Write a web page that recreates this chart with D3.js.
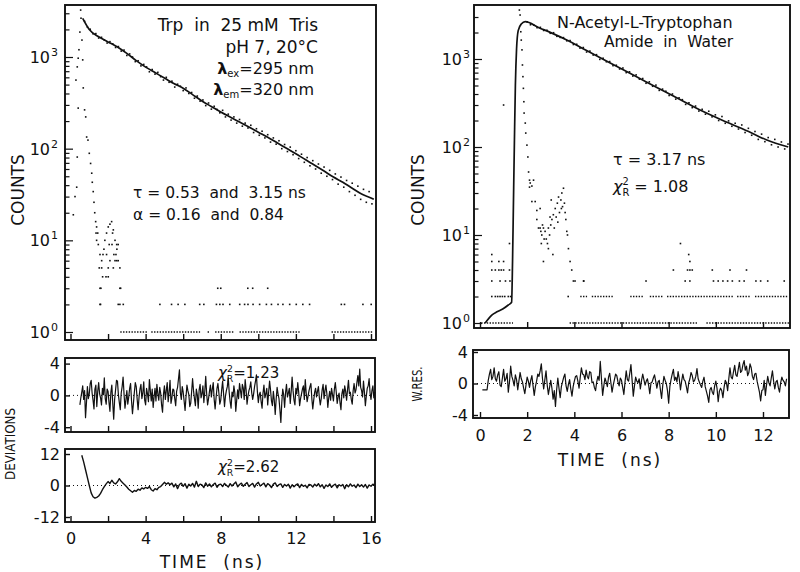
<!DOCTYPE html>
<html><head><meta charset="utf-8">
<script src="https://cdn.jsdelivr.net/npm/d3@7"></script>
<style>
body{margin:0;background:#fff;}
svg{font-family:"DejaVu Sans",sans-serif;fill:#111;}
text{white-space:pre;}
</style></head><body>
<svg id="c" width="800" height="572"></svg>
<script>
// ---------------- DATA ----------------
// Left: Trp in 25 mM Tris
const trpFitTime   = [0.65,1.0,1.5,2.0,2.5,3.0,3.5,4.0,4.5,5.0,5.5,6.0,6.5,7.0,7.5,8.0,8.5,9.0,9.5,10,10.5,11,11.5,12,12.5,13,13.5,14,14.5,15,15.5,16,16.15];
const trpFitCounts = [2640,1995,1660,1462,1288,1096,912,776,676,589,513,457,389,331,288,251,221,195,172,151,133,116,101,88,76,66,57,49,43,37,32,29,28];
const trpChannelStart = 0.75, trpChannelWidth = 0.15;
const trpDecayCounts = [2450,2120,2010,1790,1800,1610,1640,1530,1420,1470,
 1390,1270,1300,1160,1190,1040,1080,1000,890,910,
 800,830,780,690,730,650,680,610,560,600,
 530,545,470,505,480,430,460,400,410,355,
 375,330,340,295,315,270,290,268,246,262,
 222,238,205,222,190,208,176,190,168,180,
 150,165,140,155,131,142,118,131,112,122,
 100,111,93,104,86,95,78,87,71,80,
 65,74,60,68,54,63,50,58,46,53,
 41,49,38,45,34,42,31,39,28,36,
 26,34,25];
const trpLampTime   = [0.15,0.24,0.33,0.36,0.41,0.29,0.36,0.41,0.45,0.5,0.54,0.56,0.61,0.65,0.68,0.75,0.81,0.86,0.93,1.0,1.07,1.13,1.16,1.21,1.25,1.29,1.34,1.39,1.45,1.36,1.39,1.48,1.57,1.66,1.53,1.66,1.71,1.62,1.6,1.83,1.92,2.01,2.1,2.19,2.28,2.06,1.92,2.1,2.01,2.21,2.31,2.37,1.89,2.01,2.28,2.46,2.42,2.54,2.63,2.67,2.46,2.24,2.37,2.54,2.47,1.78,1.73,2.63];
const trpLampCounts = [19,30,38,81,277,560,780,970,1200,1870,3250,2650,1530,930,460,265,222,134,124,89,69,54,43,34,26,20,16,14,12,12,10,9,7,6,5,5,4,3,2,10,12,14,15,16,13,9,7,6,5,9,7,6,4,4,5,6,7,6,5,3,9,12,10,9,8,8,7,2];
const trpLevel1Runs = [[2.65,4.1],[4.3,6.9],[7.3,7.45],[7.7,8.7],[9.0,12.2],[13.9,16.1]];
const trpLevel2Time = [1.57,2.54,2.81,4.76,5.38,5.73,6.09,6.88,7.1,7.77,7.95,8.12,8.48,9.01,9.27,9.45,9.72,10.07,10.43,10.7,11.05,11.31,11.67,12.02,12.37,12.73,14.42,14.59,15.57,16.01];
const trpLevel3Time = [1.57,2.63,7.84,8.0,9.44,9.7,10.5];

const res1Start = 0.5, res1Step = 0.05;
const res1Values = [-1.2,-0.3,0.4,1.2,-0.5,0.6,-2.8,-0.9,1.1,-0.4,0.2,1.5,1.9,0.3,-0.6,-1.7,0.8,1.3,-1.4,0.5,
 1.6,0.2,-0.3,-1.2,0.9,0.1,2.2,-0.4,-1.1,0.8,0.5,-0.9,-2.0,0.4,1.3,-1.0,-3.0,-0.5,0.7,1.9,
 1.8,0.1,-0.9,-1.8,0.3,1.1,2.3,0.2,-1.6,-0.6,0.6,-1.1,-0.2,0.9,1.5,-0.7,-2.3,-1.0,0.4,1.6,
 1.1,-0.5,-1.8,-0.2,0.8,1.4,-0.4,0.3,1.7,-0.6,-1.2,0.9,0.2,-0.8,2.0,0.6,-0.7,0.8,-1.5,-0.2,
 0.9,-0.7,1.4,0.2,-0.6,1.0,0.3,-1.2,-2.1,0.1,1.2,-0.5,0.6,1.6,-0.8,0.4,1.9,-1.0,-0.3,0.8,
 0.7,-0.4,-1.3,0.5,1.0,2.1,3.2,0.3,-0.5,1.1,0.4,-0.7,-1.9,-0.2,1.3,0.6,0.1,-1.4,-1.0,0.5,
 2.1,0.6,-0.4,-1.3,0.8,0.1,-1.6,0.7,1.4,-0.3,0.2,1.2,-0.9,0.5,2.4,0.2,-1.2,-0.4,0.5,1.3,
 -0.2,0.8,1.6,-0.5,-1.7,-0.3,0.9,1.5,0.3,-1.1,-0.6,0.7,1.8,0.2,-1.4,-0.1,0.6,1.1,2.2,0.4,
 -0.8,-1.6,0.4,-0.2,1.2,0.3,-2.0,-0.6,0.7,-0.4,1.5,0.6,-0.3,1.4,0.9,-0.5,2.0,0.7,-1.1,-0.1,
 0.6,1.0,1.7,0.3,-0.5,0.2,1.1,1.8,2.6,0.5,-0.9,0.1,0.4,-0.8,-1.6,0.3,1.3,-0.3,0.2,0.9,
 -1.2,0.4,1.8,0.7,-0.7,-1.3,0.5,-0.6,-2.4,-0.5,1.0,0.2,-0.4,-1.8,-3.4,-0.9,0.8,0.1,-1.5,0.3,
 1.4,-0.2,0.3,0.9,-1.0,0.5,2.3,0.6,-0.6,-1.2,0.9,0.2,1.6,0.4,-1.3,-0.4,0.2,0.8,1.2,-0.5,
 2.0,0.3,-0.8,-0.1,0.6,1.1,1.5,-0.4,-1.7,-0.6,0.4,0.9,-0.2,0.5,1.1,-0.3,-1.2,-0.4,0.7,1.4,
 -0.4,0.6,1.3,0.2,-1.5,-0.3,0.5,-0.6,0.9,0.1,-0.7,0.8,1.6,0.4,-1.0,-0.2,0.3,-0.9,-1.8,0.2,
 0.8,-0.3,1.2,0.5,-0.6,0.7,1.9,0.2,0.4,-0.5,-1.1,0.6,1.5,0.3,0.7,1.6,2.5,1.2,3.3,1.0,
 0.6,-0.2,1.8,0.4,-1.3,-0.1,0.9,1.2,2.1,0.3,-0.5,0.6,1.2,-0.3,0.4];
const res2Start = 0.6, res2Step = 0.1;
const res2Values = [11.5,9.0,6.0,3.0,0.0,-2.8,-4.3,-4.8,-4.5,-4.0,
 -3.0,-1.6,-0.4,0.6,1.5,0.8,2.0,1.0,0.6,1.4,
 2.6,1.6,0.9,0.2,-0.6,-1.4,-2.0,-2.6,-1.9,-2.2,
 -1.4,-1.8,-0.9,-1.3,-0.7,-1.1,-0.4,-1.6,-2.1,-1.2,
 -1.6,-0.7,-0.4,0.4,1.2,0.5,1.0,0.3,0.9,-0.5,
 0.6,-1.2,0.4,0.9,-0.3,0.7,-1.0,0.5,-0.2,0.8,
 -0.6,1.6,-0.4,0.5,0.2,-0.8,1.0,-0.3,0.6,-0.5,
 0.4,0.9,-0.7,0.3,0.5,-0.4,0.8,0.1,-0.6,0.7,
 -0.2,0.6,1.3,-0.5,0.4,0.9,-0.3,0.5,1.1,-0.4,
 0.3,0.8,-0.6,0.6,1.2,-0.2,0.4,0.9,-0.5,0.7,
 0.2,-0.8,0.5,1.0,-0.4,0.3,0.6,-0.7,0.4,-0.2,
 0.5,-1.0,0.3,-0.5,0.2,0.6,-0.8,0.4,-0.3,0.1,
 -0.9,0.4,0.2,-0.6,0.5,-0.2,0.7,-0.5,0.3,-1.1,
 0.2,-0.4,0.6,-0.7,0.1,0.5,-0.9,0.3,-0.2,0.4,
 -1.2,0.3,-0.5,0.6,-0.3,0.2,-0.8,0.5,-0.4,0.3,
 -0.6,0.4,-1.0,0.2,-0.3,0.5,0.1];

// Right: N-Acetyl-L-Tryptophan Amide in Water
const natFitTime   = [0.22,0.5,0.72,0.98,1.2,1.34,1.38,1.42,1.46,1.5,1.55,1.62,1.75,1.92,2.5,3.0,3.68,4.5,5.5,6.5,7.5,8.5,9.33,10.5,11.5,12.16,13.07];
const natFitCounts = [1.0,1.23,1.34,1.45,1.6,1.72,5,25,120,500,1300,2100,2500,2655,2270,1995,1645,1260,908,658,475,344,263,190,145,120,100];
const natChannelStart = 2.0, natChannelWidth = 0.14;
const natDecayCounts = [2640,2450,2430,2270,2290,2110,2120,1960,1990,1810,
 1760,1750,1610,1620,1460,1470,1330,1350,1200,1230,
 1110,1120,990,1020,930,935,840,850,770,790,
 700,715,640,660,590,600,530,550,490,505,
 440,455,430,385,400,350,362,345,305,318,
 280,292,256,268,236,255,220,232,200,222,
 186,198,172,186,160,178,146,163,136,150,
 122,140,115,128,106,122,100,114,95,108];
const natLampTime   = [1.67,1.70,1.73,1.75,1.78,1.80,1.82,1.84,1.86,1.87,1.92,1.94,1.99,2.03,2.06,2.10,2.13,2.20,2.10,2.27,2.20,2.34,2.41,2.55,2.41,2.48,2.55,2.58,2.62,2.69,2.76,2.81,2.86,2.69,2.90,2.97,3.02,3.05,3.09,3.11,3.19,3.23,3.28,3.33,3.37,3.43,3.47,3.54,3.58,3.61,3.64,3.68,3.71,3.75,3.82,3.89,4.03,4.39,2.65,2.72,2.95,3.0,3.15,3.3,3.45,3.5,2.6,2.9,1.0,1.25];
const natLampCounts = [3600,3160,2040,1640,1270,855,630,464,327,243,187,144,105,77,52,42,39,36,35,42,24,24,19,20,15,12,12,11,10,12,11,9,8,5,12,16,25,15,6,17,20,16,23,27,18,25,30,34,23,18,15,11,10,7,5,4,3,3,13,9,10,13,12,14,20,21,8,7,300,8];
const natLevel1Runs = [[0.05,1.4],[3.8,9.2],[9.6,13.1]];
const natLevel2Runs = [[4.25,4.54],[4.74,5.63],[6.37,6.92],[7.2,7.76],[7.93,10.73],[10.9,11.45],[11.66,13.06]];
const natLevel2Time = [0.5,0.65,0.75,0.85,0.95,1.05,1.2,1.3,3.74];
const natLevel3Time = [0.5,0.85,1.08,1.27,3.96,4.4,7.04,8.7,8.9,9.9,10.1,10.3,10.5,10.7,11.0,11.2,11.7,11.9,12.2,12.9];
const natLevel4Time = [0.5,0.65,0.8,0.9,1.0,1.25,8.2,8.8,8.9,9.0,9.85,10.6,11.3];
const natLevel5Time = [0.5,0.8,1.0,8.9];
const natLevel6Time = [0.5,8.85];
const natLevel8Time = [8.5];
const res3Start = 0.1, res3Step = 0.05;
const res3Values = [-0.8,-0.8,-0.8,-0.8,-0.8,0.4,1.2,1.8,0.5,0.9,2.0,0.6,0.3,1.1,1.5,-0.2,-0.4,0.7,1.8,0.3,
 0.6,1.3,-1.1,0.2,2.2,0.9,0.4,-0.3,1.1,0.5,-0.8,0.3,1.4,0.6,0.2,-0.6,-1.3,-0.2,0.8,0.3,
 -0.5,0.4,1.0,-0.3,-1.5,-0.4,0.3,1.2,0.9,1.6,2.5,0.6,-0.7,0.5,1.6,-0.2,-1.4,-0.5,0.4,-0.6,
 -2.0,-0.9,-2.9,-0.8,0.7,-0.6,-1.8,-0.4,0.2,0.8,1.2,-0.3,-1.0,-0.1,0.5,-0.7,-1.6,-0.4,0.3,0.9,
 1.0,0.3,-0.6,0.8,2.0,1.2,1.1,0.5,1.7,0.9,0.6,1.5,1.4,0.1,0.2,-0.5,-0.9,0.2,0.9,0.4,
 2.8,0.6,-1.5,-0.3,0.7,0.2,-0.4,0.8,1.3,0.1,-1.1,-0.2,0.5,1.2,1.0,0.2,-0.3,0.7,0.4,-0.5,
 -1.4,0.2,1.6,0.5,0.3,1.3,2.4,0.4,-1.6,-0.3,0.8,0.3,0.1,0.6,-0.7,0.4,1.2,0.5,-0.2,0.3,
 0.6,-0.2,-1.3,0.1,0.2,0.7,1.1,0.3,-0.6,0.2,0.4,-0.8,-1.9,-0.2,0.9,0.4,0.0,-0.9,-2.5,-0.4,
 0.5,1.2,1.8,0.4,0.8,0.2,1.5,0.6,-0.8,0.3,1.2,0.5,0.3,-0.4,-1.2,0.1,0.6,1.4,1.0,0.2,
 0.4,0.9,1.9,0.6,0.2,-0.2,-0.5,0.3,0.8,-0.4,-1.0,-1.6,-2.4,-0.8,-0.5,-1.1,-1.4,-0.3,0.3,-0.6,
 -2.3,-1.0,-0.6,-0.9,-1.8,-0.5,0.4,0.1,-0.9,0.6,2.0,0.8,0.6,1.5,2.3,1.1,0.9,1.8,2.7,1.4,
 1.6,2.4,2.9,1.7,2.2,1.0,1.4,2.5,2.0,0.9,0.5,1.2,1.3,0.3,-0.4,-1.1,-2.2,-0.9,-0.8,0.4,
 -1.5,-0.2,0.9,0.1,-0.3,0.7,1.6,0.3,-0.7,0.2,0.4,-0.5,-1.1,0.1,0.8,0.4,0.2,-0.3,0.6];

// Ticks
const logMajorTicks = [1,10,100,1000];
const logMinorTicks = [2,3,4,5,6,7,8,9,20,30,40,50,60,70,80,90,200,300,400,500,600,700,800,900,2000,3000];
const leftTimeTicks = [0,2,4,6,8,10,12,14,16];
const leftTimeLabels = [0,4,8,12,16];
const rightTimeTicks = [0,2,4,6,8,10,12];
const resTicks4 = [-4,0,4];
const resTicks12 = [-12,0,12];

// ---------------- DRAW ----------------
const svg = d3.select('#c');
const ink = '#111';

const xL = d3.scaleLinear().domain([0,16]).range([70.5,371]);
const yLm = d3.scaleLog().domain([1,1000]).range([332,57]);
const yR1 = d3.scaleLinear().domain([-4,4]).range([427.2,363.6]);
const yR2 = d3.scaleLinear().domain([-12,12]).range([517,454]);
const xR = d3.scaleLinear().domain([0,12]).range([480,763]);
const yRm = d3.scaleLog().domain([1,1000]).range([323,59]);
const yRr = d3.scaleLinear().domain([-4,4]).range([415,352]);

const fmt = d => d < 0 ? '-' + Math.abs(d) : String(d);

function frame(x0,y0,x1,y1){
  svg.append('rect').attr('x',x0).attr('y',y0).attr('width',x1-x0).attr('height',y1-y0)
    .attr('fill','none').attr('stroke',ink).attr('stroke-width',1.9);
}
function bottomTicks(x, ticks, y, len, labels, pad){
  const ax = d3.axisBottom(x).tickValues(ticks).tickSizeInner(-len).tickSizeOuter(0)
     .tickPadding(pad||10).tickFormat(d => labels && labels.includes(d) ? fmt(d) : '');
  const g = svg.append('g').attr('transform',`translate(0,${y})`).call(ax);
  g.select('.domain').remove();
  g.selectAll('line').attr('stroke',ink).attr('stroke-width',1.4);
  g.selectAll('text').attr('font-size',16).attr('fill',ink).attr('font-family','"DejaVu Sans",sans-serif');
}
function logTicks(y, x0, labelX){
  const gMin = svg.append('g').attr('transform',`translate(${x0},0)`)
     .call(d3.axisRight(y).tickValues(logMinorTicks).tickSize(4.5).tickFormat(''));
  const gMaj = svg.append('g').attr('transform',`translate(${x0},0)`)
     .call(d3.axisRight(y).tickValues(logMajorTicks).tickSize(8).tickFormat(''));
  [gMin,gMaj].forEach(g=>{g.select('.domain').remove(); g.selectAll('line').attr('stroke',ink).attr('stroke-width',1.2);});
  logMajorTicks.forEach(v=>{
    const t = svg.append('text').attr('x',labelX).attr('y',y(v)+6).attr('text-anchor','end')
      .attr('font-size',16).attr('fill',ink);
    t.append('tspan').text('10');
    t.append('tspan').attr('font-size',11).attr('dy',-7).attr('dx',1).text(String(Math.round(Math.log10(v))));
  });
}
function leftValueTicks(y, x0, ticks){
  const g = svg.append('g').attr('transform',`translate(${x0},0)`)
    .call(d3.axisLeft(y).tickValues(ticks).tickSizeInner(-5).tickSizeOuter(0).tickPadding(5).tickFormat(fmt));
  g.select('.domain').remove();
  g.selectAll('line').attr('stroke',ink).attr('stroke-width',1.4);
  g.selectAll('text').attr('font-size',16).attr('fill',ink).attr('font-family','"DejaVu Sans",sans-serif');
}
function zeroLine(x0,x1,y){
  svg.append('line').attr('x1',x0).attr('x2',x1).attr('y1',y).attr('y2',y)
    .attr('stroke',ink).attr('stroke-width',1).attr('stroke-dasharray','1,3');
}
function dots(x,y,times,counts,g){
  g.selectAll(null).data(times.map((t,i)=>({t,c:counts[i]}))).enter().append('rect')
    .attr('x',d=>x(d.t)-0.8).attr('y',d=>y(d.c)-0.8).attr('width',1.6).attr('height',1.6).attr('fill',ink);
}
function levelDots(x,y,times,level,g){ dots(x,y,times,times.map(()=>level),g); }
function levelRuns(x,y,runs,level,g){
  g.selectAll(null).data(runs).enter().append('line')
    .attr('x1',d=>x(d[0])).attr('x2',d=>x(d[1])).attr('y1',y(level)).attr('y2',y(level))
    .attr('stroke',ink).attr('stroke-width',1.5).attr('stroke-dasharray','1.4,1.4');
}
function chi(x,y,val,size){
  const t = svg.append('text').attr('x',x).attr('y',y).attr('font-size',size).attr('fill',ink);
  t.append('tspan').attr('font-style','italic').text('χ');
  t.append('tspan').attr('font-size',size*0.62).attr('dy',-size*0.42).text('2');
  t.append('tspan').attr('font-size',size*0.62).attr('dx',-size*0.4).attr('dy',size*0.7).text('R');
  t.append('tspan').attr('dy',-size*0.28).text(val);
}
function txt(x,y,s,size,anchor){
  return svg.append('text').attr('x',x).attr('y',y).attr('font-size',size).attr('fill',ink)
    .attr('text-anchor',anchor||'start').text(s);
}
function resLine(x,y,start,step,vals,w){
  svg.append('path').datum(vals.map((v,i)=>[start+i*step,v]))
    .attr('d',d3.line().x(d=>x(d[0])).y(d=>y(d[1])))
    .attr('fill','none').attr('stroke',ink).attr('stroke-width',w).attr('stroke-linejoin','round');
}

// ===== Left main =====
frame(65,5,376,340);
bottomTicks(xL, leftTimeTicks, 340, 6, null);
logTicks(yLm, 65, 58);
const gL = svg.append('g');
levelRuns(xL,yLm,trpLevel1Runs,1,gL);
levelDots(xL,yLm,trpLevel2Time,2,gL);
levelDots(xL,yLm,trpLevel3Time,3,gL);
dots(xL,yLm,trpLampTime,trpLampCounts,gL);
dots(xL,yLm,trpDecayCounts.map((c,i)=>trpChannelStart+i*trpChannelWidth),trpDecayCounts,gL);
svg.append('path').datum(trpFitTime.map((t,i)=>[t,trpFitCounts[i]]))
  .attr('d',d3.line().x(d=>xL(d[0])).y(d=>yLm(d[1])).curve(d3.curveMonotoneX))
  .attr('fill','none').attr('stroke',ink).attr('stroke-width',1.7);

txt(318,31,'Trp  in  25 mM  Tris',17,'end');
txt(318,53,'pH 7, 20°C',17,'end');
function lam(x,y,sub,rest){
  const t = svg.append('text').attr('x',x).attr('y',y).attr('font-size',16).attr('fill',ink).attr('text-anchor','end');
  t.append('tspan').attr('font-weight','bold').text('λ');
  t.append('tspan').attr('font-size',10).attr('dy',3).text(sub);
  t.append('tspan').attr('dy',-3).text(rest);
}
lam(314,74,'ex','=295 nm');
lam(314,95,'em','=320 nm');
txt(133,198,'τ = 0.53  and  3.15 ns',15.5);
txt(133,220,'α = 0.16  and  0.84',15.5);
svg.append('text').attr('transform','translate(24,190) rotate(-90)').attr('text-anchor','middle')
  .attr('font-size',17).attr('fill',ink).text('COUNTS');

// ===== Left residual 1 =====
frame(65,358,375,432);
zeroLine(65,375,yR1(0));
bottomTicks(xL, leftTimeTicks, 432, 6, null);
leftValueTicks(yR1, 65, resTicks4);
resLine(xL,yR1,res1Start,res1Step,res1Values,1.2);
chi(218,378,'=1.23',15);

// ===== Left residual 2 =====
frame(65,449,375,522);
zeroLine(65,375,yR2(0));
bottomTicks(xL, leftTimeTicks, 522, 6, leftTimeLabels, 10.5);
leftValueTicks(yR2, 65, resTicks12);
resLine(xL,yR2,res2Start,res2Step,res2Values,1.4);
chi(218,472,'=2.62',15);
svg.append('text').attr('transform','translate(15,444) rotate(-90)').attr('text-anchor','middle')
  .attr('font-size',14).attr('fill',ink).attr('textLength',72).attr('lengthAdjust','spacingAndGlyphs').text('DEVIATIONS');
svg.append('text').attr('x',212).attr('y',568).attr('text-anchor','middle').attr('font-size',17)
  .attr('letter-spacing',2).attr('fill',ink).text('TIME  (ns)');

// ===== Right main =====
frame(474,5,790,328);
bottomTicks(xR, rightTimeTicks, 328, 6, null);
logTicks(yRm, 474, 470);
const gR = svg.append('g');
levelRuns(xR,yRm,natLevel1Runs,1,gR);
levelRuns(xR,yRm,natLevel2Runs,2,gR);
levelDots(xR,yRm,natLevel2Time,2,gR);
levelDots(xR,yRm,natLevel3Time,3,gR);
levelDots(xR,yRm,natLevel4Time,4,gR);
levelDots(xR,yRm,natLevel5Time,5,gR);
levelDots(xR,yRm,natLevel6Time,6,gR);
levelDots(xR,yRm,natLevel8Time,8,gR);
dots(xR,yRm,natLampTime,natLampCounts,gR);
dots(xR,yRm,natDecayCounts.map((c,i)=>natChannelStart+i*natChannelWidth),natDecayCounts,gR);
svg.append('path').datum(natFitTime.map((t,i)=>[t,natFitCounts[i]]))
  .attr('d',d3.line().x(d=>xR(d[0])).y(d=>yRm(d[1])).curve(d3.curveMonotoneX))
  .attr('fill','none').attr('stroke',ink).attr('stroke-width',1.7);
txt(557,28,'N-Acetyl-L-Tryptophan',16);
txt(604,47,'Amide  in  Water',15.5);
txt(613,165,'τ = 3.17 ns',16);
chi(613,192,' = 1.08',16);
svg.append('text').attr('transform','translate(424,190) rotate(-90)').attr('text-anchor','middle')
  .attr('font-size',17).attr('fill',ink).text('COUNTS');

// ===== Right residual =====
frame(473,350,789,418);
zeroLine(473,789,yRr(0));
bottomTicks(xR, rightTimeTicks, 418, 6, rightTimeTicks, 11.5);
leftValueTicks(yRr, 473, resTicks4);
resLine(xR,yRr,res3Start,res3Step,res3Values,1.2);
svg.append('text').attr('transform','translate(422,384) rotate(-90)').attr('text-anchor','middle')
  .attr('font-size',14).attr('fill',ink).attr('textLength',35).attr('lengthAdjust','spacingAndGlyphs').text('W.RES.');
svg.append('text').attr('x',610).attr('y',466).attr('text-anchor','middle').attr('font-size',17)
  .attr('letter-spacing',2).attr('fill',ink).text('TIME  (ns)');
</script>
</body></html>
